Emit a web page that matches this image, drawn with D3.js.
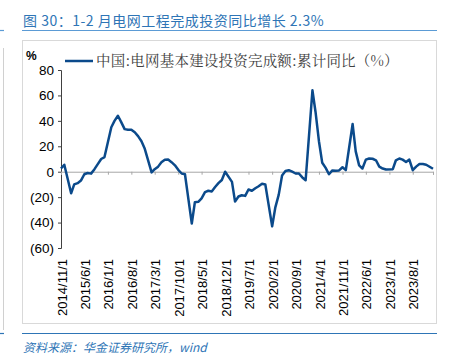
<!DOCTYPE html>
<html><head><meta charset="utf-8">
<script src="https://cdn.jsdelivr.net/npm/d3@7"></script>
<style>body{margin:0;background:#fff;}svg{display:block;}</style>
</head><body>
<script>
const dates = ["2014/11","2014/12",
"2015/2","2015/3","2015/4","2015/5","2015/6","2015/7","2015/8","2015/9","2015/10","2015/11","2015/12",
"2016/2","2016/3","2016/4","2016/5","2016/6","2016/7","2016/8","2016/9","2016/10","2016/11","2016/12",
"2017/2","2017/3","2017/4","2017/5","2017/6","2017/7","2017/8","2017/9","2017/10","2017/11","2017/12",
"2018/2","2018/3","2018/4","2018/5","2018/6","2018/7","2018/8","2018/9","2018/10","2018/11","2018/12",
"2019/2","2019/3","2019/4","2019/5","2019/6","2019/7","2019/8","2019/9","2019/10","2019/11","2019/12",
"2020/2","2020/3","2020/4","2020/5","2020/6","2020/7","2020/8","2020/9","2020/10","2020/11","2020/12",
"2021/2","2021/3","2021/4","2021/5","2021/6","2021/7","2021/8","2021/9","2021/10","2021/11","2021/12",
"2022/2","2022/3","2022/4","2022/5","2022/6","2022/7","2022/8","2022/9","2022/10","2022/11","2022/12",
"2023/2","2023/3","2023/4","2023/5","2023/6","2023/7","2023/8","2023/9","2023/10","2023/11","2023/12",
"2024/2"];
const values = [2.5,5.5,
-17,-10,-9,-7,-2,-1,-1.5,2,6,10,11.5,
35,40,44,39,33.5,33,33,31,28,24,18,
-0.5,2,4,7.5,9.5,9.6,7.5,5,1.5,-1.4,-2,
-40.8,-24,-23.7,-21,-16,-15,-15.5,-12,-9,-6.5,0,
-8,-23.5,-19.5,-18.5,-19,-14,-15,-13,-11.4,-9.5,-10,
-43,-28,-18,-3,0.5,1.2,0,-1.4,-1.4,-4.5,-6.7,
64,47,24,7,3,-2,1,0.8,1,3.5,1.2,
37.5,16,5,2.5,9.5,10.4,10.2,9,4,2.5,1.7,
2,9,10.4,9.5,7.7,9.5,1.2,4,6,6,5.5,
2.3];
const xTickLabels = ["2014/11/1","2015/6/1","2016/1/1","2016/8/1","2017/3/1","2017/10/1","2018/5/1","2018/12/1","2019/7/1","2020/2/1","2020/9/1","2021/4/1","2021/11/1","2022/6/1","2023/1/1","2023/8/1"];
const yTicks = [80,60,40,20,0,-20,-40,-60];

const W = 449, H = 364;
const svg = d3.select("body").append("svg").attr("width", W).attr("height", H);
const parse = s => { const p = s.split("/").map(Number); return new Date(p[0], p[1]-1, p[2]||1); };
const data = dates.map((d,i)=>({d: parse(d), v: values[i]}));

const x = d3.scaleTime().domain([parse("2014/11"), parse("2024/2")]).range([61, 433]);
const y = d3.scaleLinear().domain([-60, 80]).range([248, 70]);

// left edge artifacts
svg.append("line").attr("x1",3.5).attr("x2",3.5).attr("y1",48).attr("y2",330).attr("stroke","#d0d0d0").attr("stroke-width",1);
svg.append("line").attr("x1",0).attr("x2",4).attr("y1",30.5).attr("y2",30.5).attr("stroke","#5b9bd5").attr("stroke-width",1.2);
svg.append("line").attr("x1",0).attr("x2",4).attr("y1",333.5).attr("y2",333.5).attr("stroke","#2e75b6").attr("stroke-width",1.2);

// title
svg.append("text").attr("x",23).attr("y",26).attr("font-family","'Noto Sans CJK SC','Liberation Sans',sans-serif")
  .attr("font-size",14).attr("letter-spacing",0.5).attr("fill","#2e75b6").text("图 30：1-2 月电网工程完成投资同比增长 2.3%");
svg.append("line").attr("x1",22).attr("x2",437).attr("y1",30.5).attr("y2",30.5).attr("stroke","#5b9bd5").attr("stroke-width",1.2);

// frame
svg.append("rect").attr("x",22.5).attr("y",40.5).attr("width",414).attr("height",283).attr("fill","none").attr("stroke","#d9d9d9").attr("stroke-width",1);

// % label
svg.append("text").attr("x",26).attr("y",60).attr("font-family","'Liberation Sans',sans-serif").attr("font-size",12).attr("font-weight","bold").attr("fill","#000").text("%");

// legend
svg.append("line").attr("x1",65).attr("x2",93).attr("y1",61).attr("y2",61).attr("stroke","#0b4a8b").attr("stroke-width",2.5);
svg.append("text").attr("x",96).attr("y",66).attr("font-family","'Noto Serif CJK SC','Noto Sans CJK SC',serif")
  .attr("font-size",14.5).attr("letter-spacing",0.2).attr("fill","#404040").text("中国:电网基本建设投资完成额:累计同比（%）");

// y axis
const yAxis = svg.append("g").attr("transform","translate(61,0)")
  .call(d3.axisLeft(y).tickValues(yTicks).tickSize(3).tickPadding(4)
    .tickFormat(d => d < 0 ? "(" + Math.abs(d) + ")" : d));
yAxis.select(".domain").attr("stroke","#404040");
yAxis.selectAll(".tick line").attr("stroke","#404040");
yAxis.selectAll("text").attr("font-family","'Liberation Sans',sans-serif").attr("font-size",13.5).attr("fill","#000");

// x axis at zero
const tickDates = xTickLabels.map(parse).concat([parse("2024/2")]);
const xAxis = svg.append("g").attr("transform",`translate(0,${y(0)})`)
  .call(d3.axisBottom(x).tickValues(tickDates).tickSize(3).tickFormat(""));
xAxis.select(".domain").attr("stroke","#a6a6a6");
xAxis.selectAll(".tick line").attr("stroke","#a6a6a6");

// x labels rotated
svg.append("g").selectAll("text").data(xTickLabels).join("text")
  .attr("transform", d => `translate(${x(parse(d))+1},259) rotate(-90)`)
  .attr("text-anchor","end").attr("dy","0.35em")
  .attr("font-family","'Liberation Sans',sans-serif").attr("font-size",13).attr("fill","#000")
  .text(d => d);

// line
svg.append("path").datum(data)
  .attr("d", d3.line().x(d=>x(d.d)).y(d=>y(d.v)))
  .attr("fill","none").attr("stroke","#0b4a8b").attr("stroke-width",2.5).attr("stroke-linejoin","round");

// bottom rule & source
svg.append("line").attr("x1",22).attr("x2",437).attr("y1",333.5).attr("y2",333.5).attr("stroke","#2e75b6").attr("stroke-width",1.2);
svg.append("text").attr("x",23).attr("y",352).attr("font-family","'Noto Sans CJK SC',sans-serif").attr("font-size",12)
  .attr("font-style","italic").attr("fill","#2e75b6").text("资料来源：华金证券研究所，wind");
</script>
</body></html>
